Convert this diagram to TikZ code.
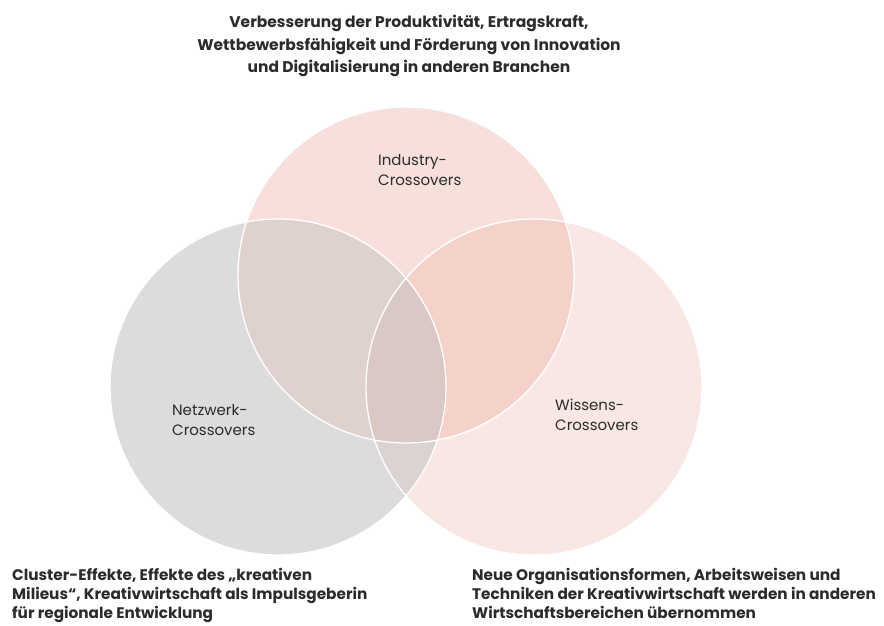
\documentclass[tikz,border=0pt]{standalone}
\usepackage{fontspec}
\setmainfont{Poppins}
\usepackage{tikz}
\usetikzlibrary{positioning}

\definecolor{netz}{HTML}{DCDCDC}
\definecolor{indu}{HTML}{F7E0DB}
\definecolor{wiss}{HTML}{F9E7E3}
\definecolor{indunetz}{HTML}{DED1CE}
\definecolor{induwiss}{HTML}{F4D2CA}
\definecolor{netzwiss}{HTML}{DCD2D0}
\definecolor{mitte}{HTML}{D9C8C3}
\definecolor{txt}{HTML}{2B2B2B}

\begin{document}
\begin{tikzpicture}[x=1pt,y=-1pt,
  every node/.style={inner sep=0pt,text=txt},
  circlabel/.style={font=\fontsize{15}{20}\selectfont,align=left,anchor=north west},
  headtext/.style={font=\fontsize{15.5}{22.5}\selectfont\bfseries},
  foottext/.style={font=\fontsize{15.3}{19}\selectfont\bfseries,align=left,anchor=north west},
  outline/.style={white,line width=1.3pt}]
  \useasboundingbox (0,0) rectangle (884,625);
  % three circles: Industry (top), Netzwerk (left), Wissens (right)
  \def\rad{168pt}
  \coordinate (cI) at (406,275);
  \coordinate (cN) at (278,387);
  \coordinate (cW) at (534,387);
  \fill[netz] (cN) circle (\rad);
  \fill[wiss] (cW) circle (\rad);
  \fill[indu] (cI) circle (\rad);
  % overlaps
  \begin{scope}
    \clip (cI) circle (\rad);
    \fill[indunetz] (cN) circle (\rad);
    \fill[induwiss] (cW) circle (\rad);
  \end{scope}
  \begin{scope}
    \clip (cN) circle (\rad);
    \fill[netzwiss] (cW) circle (\rad);
    \clip (cI) circle (\rad);
    \fill[mitte] (cW) circle (\rad);
  \end{scope}
  \foreach \c in {cI,cN,cW}
    \draw[outline] (\c) circle (\rad);
  % labels in the circles
  \node[circlabel] (industry) at (378,154) {Industry-\\Crossovers};
  \node[circlabel] (netzwerk) at (172,404) {Netzwerk-\\Crossovers};
  \node[circlabel] (wissens) at (555,399) {Wissens-\\Crossovers};
  % effects
  \node[headtext,align=center,anchor=north] (produktiv) at (409,15)
    {Verbesserung der Produktivität, Ertragskraft,\\
     Wettbewerbsfähigkeit und Förderung von Innovation\\
     und Digitalisierung in anderen Branchen};
  \node[foottext] (cluster) at (12,568)
    {Cluster-Effekte, Effekte des „kreativen\\
     Milieus“, Kreativwirtschaft als Impulsgeberin\\
     für regionale Entwicklung};
  \node[foottext] (organisation) at (472,568)
    {Neue Organisationsformen, Arbeitsweisen und\\
     Techniken der Kreativwirtschaft werden in anderen\\
     Wirtschaftsbereichen übernommen};
\end{tikzpicture}
\end{document}
